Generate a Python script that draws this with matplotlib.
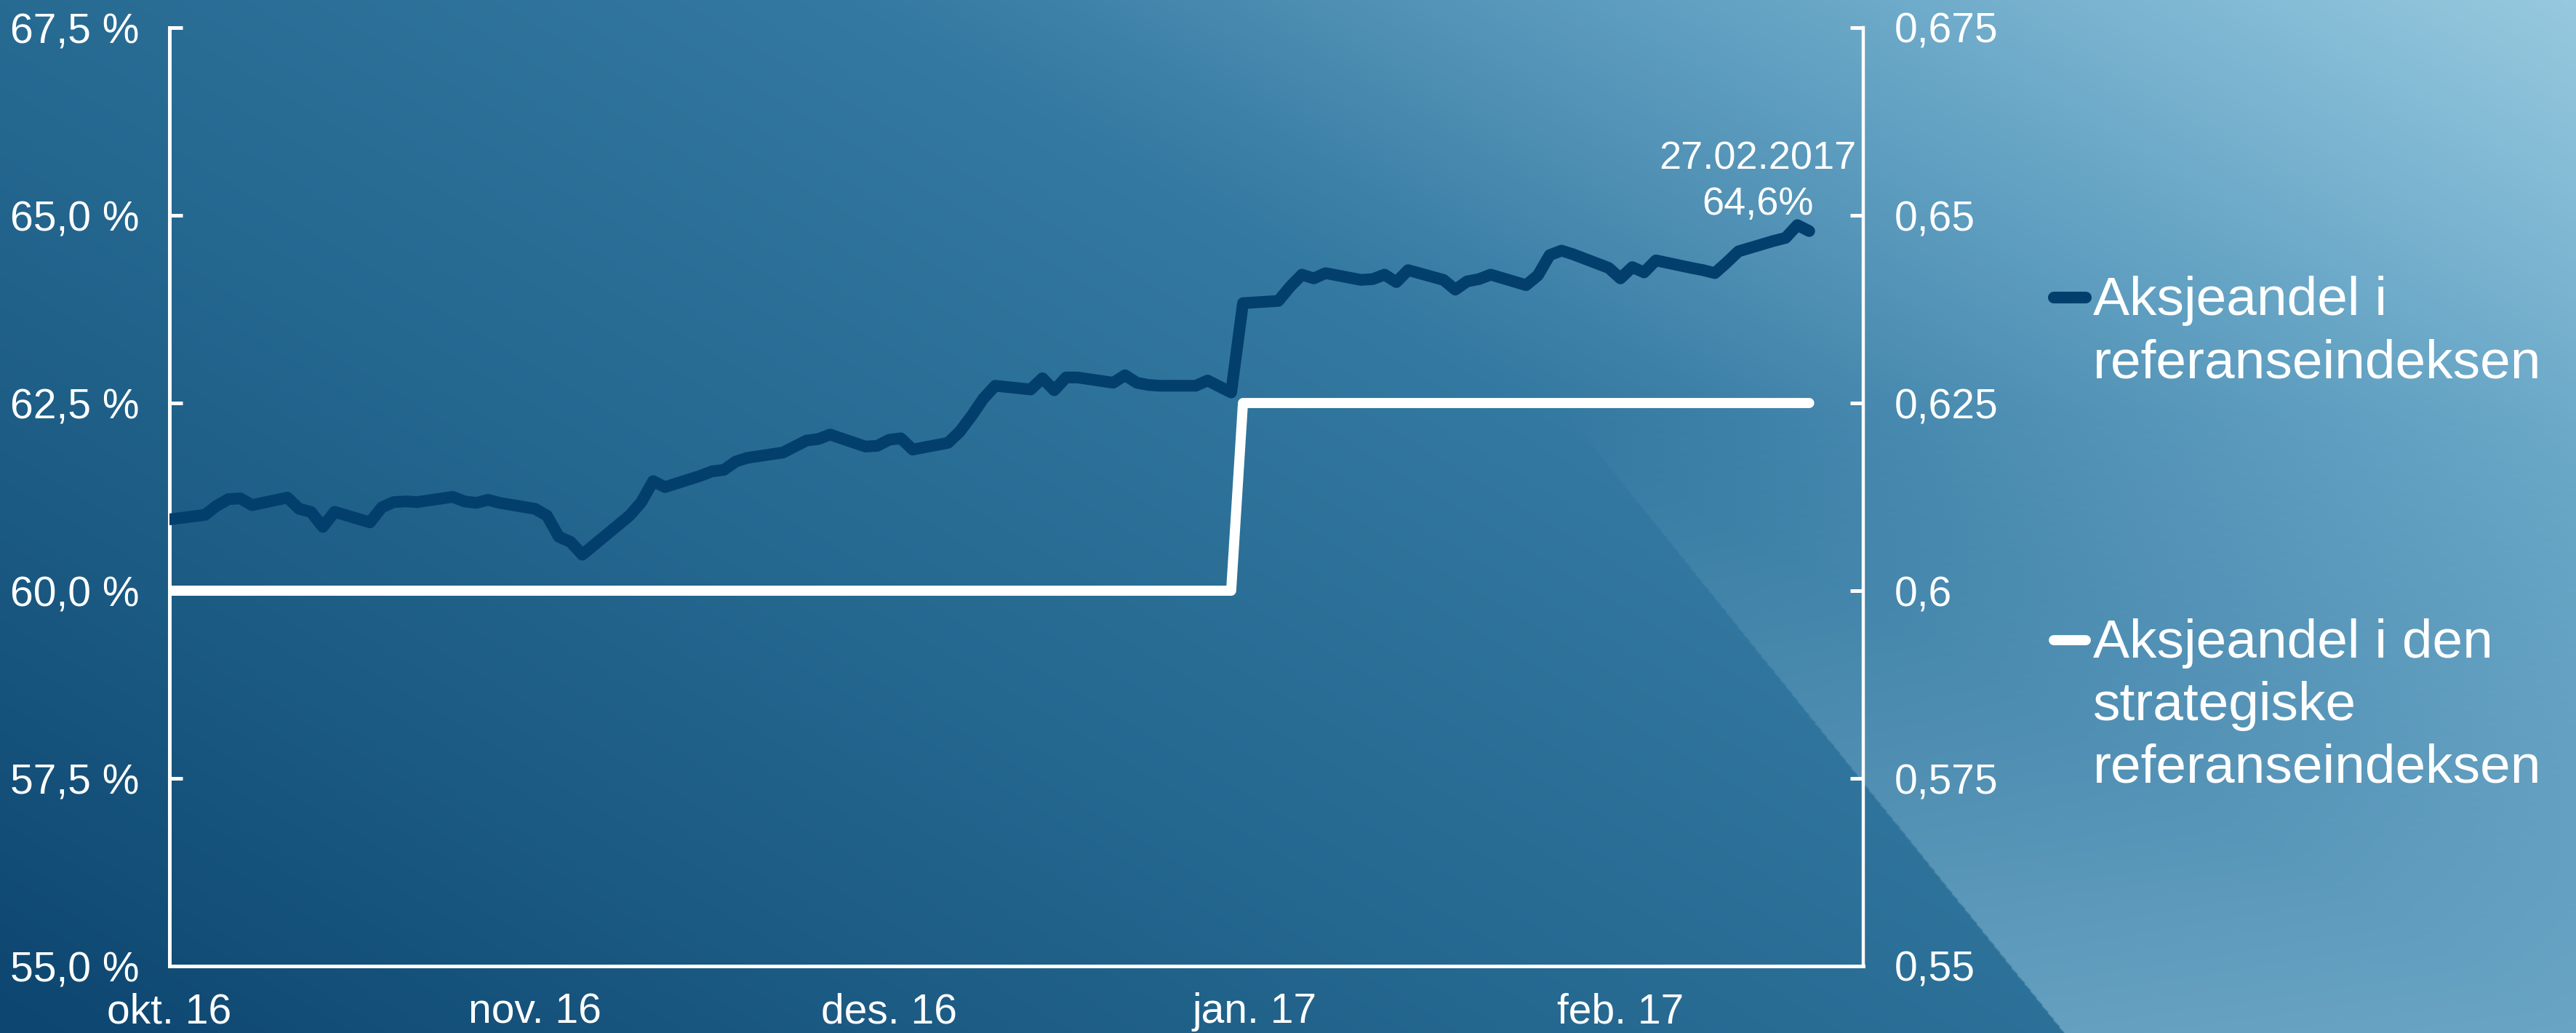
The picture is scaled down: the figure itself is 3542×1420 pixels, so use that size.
import matplotlib
matplotlib.use("Agg")
import matplotlib.pyplot as plt
import numpy as np
import pandas as pd
from matplotlib.lines import Line2D
from matplotlib.colors import LinearSegmentedColormap, to_rgb
from matplotlib.ticker import FuncFormatter

plt.rcParams['font.family'] = ['Liberation Sans', 'DejaVu Sans']

# trading days shown on the chart
dates = pd.bdate_range("2016-10-14", "2017-03-02")

# equity share in the reference index (%), one value per trading day
equity_share = [
    60.95,
    61.01, 61.13, 61.22, 61.23, 61.14,
    61.24, 61.09, 61.05, 60.85, 61.05,
    60.91, 61.11, 61.18, 61.19, 61.18,
    61.25, 61.19, 61.17, 61.21, 61.17,
    61.09, 61.00, 60.72, 60.65, 60.48,
    60.87, 61.00, 61.18, 61.46, 61.38,
    61.53, 61.59, 61.61, 61.72, 61.77,
    61.84, 61.92, 62.00, 62.02, 62.08,
    61.92, 61.93, 62.01, 62.03, 61.88,
    61.97, 62.12, 62.33, 62.56, 62.73,
    62.68, 62.83, 62.67, 62.84, 62.84,
    62.77, 62.87, 62.77, 62.74, 62.73,
    62.73, 62.80, 62.72, 62.64, 63.83,
    63.86, 64.05, 64.21, 64.16, 64.23,
    64.14, 64.15, 64.21, 64.11, 64.27,
    64.14, 64.01, 64.12, 64.15, 64.21,
    64.07, 64.20, 64.47, 64.53, 64.48,
    64.30, 64.16, 64.31, 64.24, 64.40,
    64.30, 64.27, 64.23, 64.37, 64.52,
    64.66, 64.70, 64.87, 64.79,
]
# equity share in the strategic benchmark (%)
strategic_share = [60.0] * 65 + [62.5] * 35

month_ticks = pd.to_datetime(["2016-10-14", "2016-11-14", "2016-12-14",
                              "2017-01-14", "2017-02-14"])
month_labels = ["okt. 16", "nov. 16", "des. 16", "jan. 17", "feb. 17"]
left_ticks = [55.0, 57.5, 60.0, 62.5, 65.0, 67.5]
right_ticks = [0.55, 0.575, 0.6, 0.625, 0.65, 0.675]

series_names = ["Aksjeandel i\nreferanseindeksen",
                "Aksjeandel i den\nstrategiske\nreferanseindeksen"]
note_lines = ["27.02.2017", "64,6%"]

navy = "#033f6d"
W, H = 3542, 1420

fig = plt.figure(figsize=(W / 200, H / 200), dpi=200)

# background: diagonal blue gradient with a lighter wedge in the lower right
h, w = 710, 1771
yy, xx = np.mgrid[0:h, 0:w]
u = xx / (w - 1)
v = yy / (h - 1)
t = 0.6 * u + 0.4 * (1 - v)
bg_cmap = LinearSegmentedColormap.from_list("bg", [
    (0.0, "#0d4670"), (0.2, "#1b5a83"), (0.4, "#276b93"), (0.6, "#3479a1"),
    (0.65, "#3f82a9"), (0.7, "#4c8db2"), (0.8, "#63a2c3"), (0.9, "#7db6d2"),
    (1.0, "#97c9df")])
img = bg_cmap(t)[..., :3]
wedge = (u * W) > 1698 + 0.803 * (v * H)
a = np.where(wedge, 0.5 * np.clip((v - 0.4) / 0.6, 0, 1), 0.0)[..., None]
img = img * (1 - a) + np.array(to_rgb("#9fd0e8")) * a
bg = fig.add_axes([0, 0, 1, 1], zorder=-10)
bg.imshow(img, extent=[0, 1, 0, 1], aspect='auto', interpolation='bilinear')
bg.axis('off')

ax = fig.add_axes([233 / W, 1 - 1328 / H, (2562 - 233) / W, (1328 - 38) / H])
ax.patch.set_alpha(0)
ax.plot(dates, equity_share, color=navy, lw=5.8, solid_capstyle='round',
        solid_joinstyle='round', zorder=3)
ax.plot(dates, strategic_share, color='white', lw=5.0, solid_capstyle='round',
        solid_joinstyle='round', zorder=4)

ax.set_xlim(pd.Timestamp("2016-10-14"), pd.Timestamp("2017-03-06 14:00"))
ax.set_ylim(55, 67.5)
ax.set_yticks(left_ticks)
ax.yaxis.set_major_formatter(FuncFormatter(lambda val, p: f"{val:.1f} %".replace(".", ",")))
ax.set_xticks(month_ticks)
ax.set_xticklabels(month_labels)

ax2 = ax.twinx()
ax2.set_ylim(0.55, 0.675)
ax2.set_yticks(right_ticks)
ax2.yaxis.set_major_formatter(FuncFormatter(lambda val, p: f"{val:g}".replace(".", ",")))

for s in ["left", "bottom"]:
    ax.spines[s].set_color("white")
    ax.spines[s].set_linewidth(1.8)
for s in ["top", "right"]:
    ax.spines[s].set_visible(False)
for s in ["top", "left", "bottom"]:
    ax2.spines[s].set_visible(False)
ax2.spines["right"].set_color("white")
ax2.spines["right"].set_linewidth(1.6)

ax.tick_params(axis='y', direction='in', length=6.5, width=1.8, colors='white',
               labelsize=20.5, pad=15)
ax.tick_params(axis='x', length=0, colors='white', labelsize=20.5, pad=13)
ax2.tick_params(axis='y', direction='in', length=6.5, width=1.8, colors='white',
                labelsize=20.5, pad=15.5)

# note above the last point
ax.text(0.9377, 0.849, note_lines[0], transform=ax.transAxes, ha='center',
        va='baseline', color='white', fontsize=19.5)
ax.text(0.9377, 0.8008, note_lines[1], transform=ax.transAxes, ha='center',
        va='baseline', color='white', fontsize=19.5)

# legend on the right, handle level with the first text line
for name, color, lw, first_base in zip(series_names, [navy, 'white'], [5.8, 5.0], [433, 904]):
    handle_y = 1 - (first_base - 24) / H
    fig.add_artist(Line2D([2824 / W, 2868 / W], [handle_y, handle_y],
                          transform=fig.transFigure, color=color, lw=lw,
                          solid_capstyle='round'))
    for i, line in enumerate(name.split("\n")):
        fig.text(2878 / W, 1 - (first_base + 86 * i) / H, line, ha='left',
                 va='baseline', color='white', fontsize=27)

fig.savefig("out.png", dpi=200)
